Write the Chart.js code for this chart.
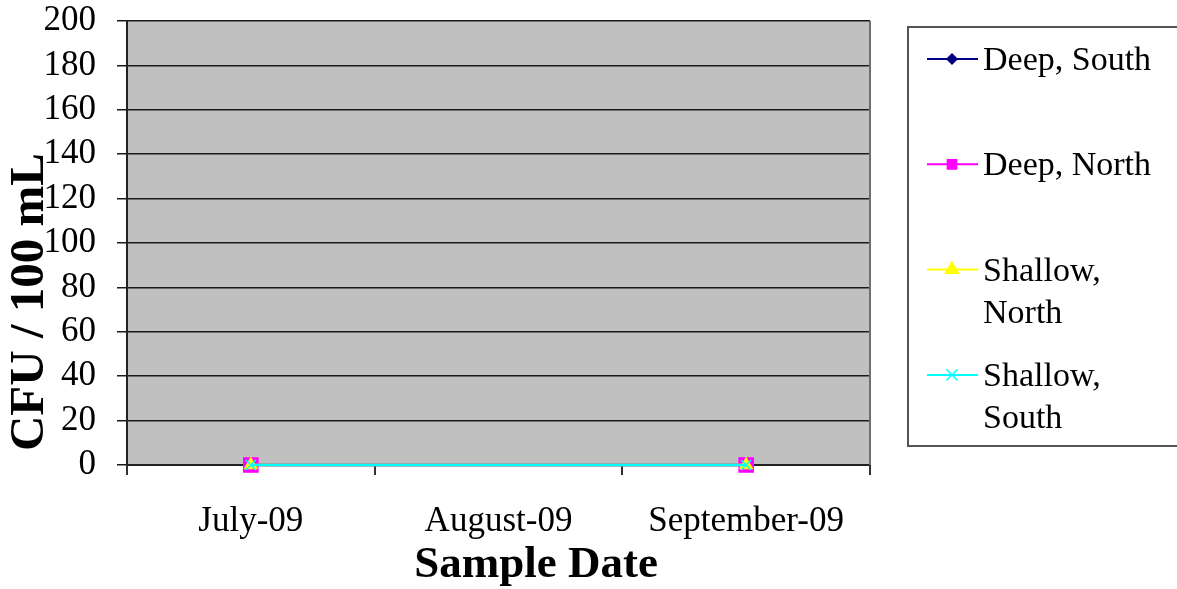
<!DOCTYPE html>
<html>
<head>
<meta charset="utf-8">
<title>CFU / 100 mL by Sample Date</title>
<script src="https://cdn.jsdelivr.net/npm/chart.js@4/dist/chart.umd.min.js"></script>
<style>
  html, body { margin: 0; padding: 0; background: #ffffff; }
  #wrap { width: 1177px; height: 589px; }
</style>
</head>
<body>
<div id="wrap"><canvas id="cfuChart" width="1177" height="589"></canvas></div>
<script>
// Sample dates (categories)
const sampleDates = ['July-09', 'August-09', 'September-09'];

// CFU / 100 mL per site; August-09 was not sampled
const deepSouth = [0, null, 0];
const deepNorth = [0, null, 0];
const shallowNorth = [0, null, 0];
const shallowSouth = [0, null, 0];

// Y-axis range
const yMin = 0;
const yMax = 200;
const yStep = 20;

// Legend labels (multi-line where the label wraps)
const seriesNames = [['Deep, South'], ['Deep, North'], ['Shallow,', 'North'], ['Shallow,', 'South']];

const SERIF = '"Liberation Serif", "Times New Roman", serif';

// Backgrounds, axis titles and the boxed legend
const decor = {
  id: 'decor',
  beforeDraw(chart) {
    const { ctx, chartArea: a } = chart;
    ctx.save();
    ctx.fillStyle = '#ffffff';
    ctx.fillRect(0, 0, chart.width, chart.height);
    ctx.fillStyle = '#c0c0c0';
    ctx.fillRect(a.left, a.top, a.right - a.left, a.bottom - a.top);
    ctx.restore();
  },
  afterDraw(chart) {
    const { ctx, chartArea: a } = chart;
    ctx.save();

    // plot area right edge
    ctx.strokeStyle = '#6e6e6e';
    ctx.lineWidth = 2;
    ctx.beginPath();
    ctx.moveTo(a.right, a.top);
    ctx.lineTo(a.right, a.bottom);
    ctx.stroke();

    // axis titles
    ctx.fillStyle = '#000000';
    ctx.font = 'bold 45px ' + SERIF;
    ctx.textAlign = 'center';
    ctx.textBaseline = 'alphabetic';
    ctx.fillText('Sample Date', 536, 577);

    ctx.save();
    ctx.font = 'bold 49px ' + SERIF;
    ctx.translate(43, 302);
    ctx.rotate(-Math.PI / 2);
    ctx.fillText('CFU / 100 mL', 0, 0);
    ctx.restore();

    // legend box
    ctx.strokeStyle = '#555555';
    ctx.lineWidth = 2;
    ctx.strokeRect(908, 27, 290, 419);

    // legend entries
    const drawPoint = Chart.helpers && Chart.helpers.drawPoint;
    const legendMarkers = [
      { pointStyle: 'rectRot', radius: 5 },
      { pointStyle: 'rect', radius: 6.5 },
      { pointStyle: 'triangle', radius: 7.5 },
      { pointStyle: 'crossRot', radius: 8 }
    ];
    ctx.font = '34px ' + SERIF;
    ctx.textAlign = 'left';
    chart.data.datasets.forEach((ds, i) => {
      const ly = 59 + 105.3 * i;
      ctx.strokeStyle = ds.borderColor;
      ctx.fillStyle = ds.pointBackgroundColor;
      ctx.lineWidth = 2;
      ctx.beginPath();
      ctx.moveTo(927, ly);
      ctx.lineTo(978, ly);
      ctx.stroke();
      const m = legendMarkers[i];
      ctx.lineWidth = 1.5;
      if (drawPoint) {
        drawPoint(ctx, { pointStyle: m.pointStyle, radius: m.radius, rotation: 0, borderWidth: 1.5 }, 952, ly);
      }
      ctx.fillStyle = '#000000';
      seriesNames[i].forEach((line, k) => {
        ctx.fillText(line, 983, ly + 11 + k * 42);
      });
    });
    ctx.restore();
  }
};

const makeSeries = (label, values, color, style, radius, order) => ({
  label,
  data: values,
  borderColor: color,
  backgroundColor: color,
  pointBackgroundColor: color,
  pointBorderColor: color,
  pointStyle: style,
  pointRadius: radius,
  pointBorderWidth: 1.5,
  borderWidth: 2.5,
  spanGaps: true,
  tension: 0,
  clip: false,
  order
});

new Chart(document.getElementById('cfuChart'), {
  type: 'line',
  data: {
    labels: sampleDates,
    datasets: [
      makeSeries('Deep, South', deepSouth, '#000080', 'rectRot', 6, 4),
      makeSeries('Deep, North', deepNorth, '#ff00ff', 'rect', 10, 3),
      makeSeries('Shallow, North', shallowNorth, '#ffff00', 'triangle', 7, 2),
      makeSeries('Shallow, South', shallowSouth, '#00ffff', 'crossRot', 7, 1)
    ]
  },
  options: {
    responsive: false,
    devicePixelRatio: 1,
    animation: false,
    layout: { padding: { top: 21, right: 307, left: 0, bottom: 0 } },
    plugins: {
      legend: { display: false },
      title: { display: false },
      tooltip: { enabled: false }
    },
    scales: {
      x: {
        type: 'category',
        offset: true,
        grid: {
          offset: true,
          drawOnChartArea: false,
          drawTicks: true,
          tickLength: 10,
          color: '#333333',
          lineWidth: 2
        },
        border: { display: true, color: '#222222', width: 2 },
        ticks: {
          color: '#000000',
          font: { family: SERIF, size: 35 },
          padding: 26,
          maxRotation: 0,
          autoSkip: false
        },
        afterFit(scale) {
          scale.height = 124;
          scale.paddingLeft = 0;
          scale.paddingRight = 0;
        }
      },
      y: {
        min: yMin,
        max: yMax,
        grid: {
          drawTicks: true,
          tickLength: 10,
          color: '#1a1a1a',
          lineWidth: 1.5
        },
        border: { display: true, color: '#222222', width: 2 },
        ticks: {
          stepSize: yStep,
          autoSkip: false,
          color: '#000000',
          font: { family: SERIF, size: 35 },
          padding: 21
        },
        afterFit(scale) {
          scale.width = 127;
          scale.paddingTop = 0;
          scale.paddingBottom = 0;
        }
      }
    }
  },
  plugins: [decor]
});
</script>
</body>
</html>
